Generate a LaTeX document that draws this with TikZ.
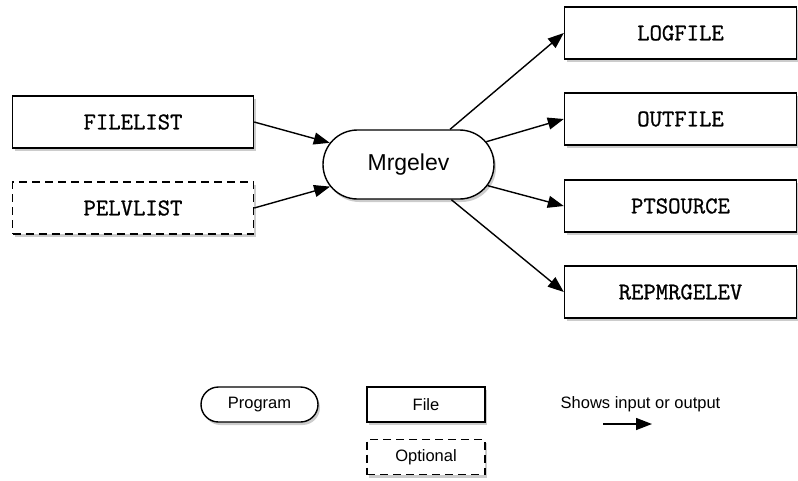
\documentclass[tikz,border=0pt]{standalone}
\usepackage{fontspec}
\setmainfont{Liberation Sans}
\newfontfamily\filefont{Latin Modern Mono}[FakeBold=1]
\usetikzlibrary{arrows.meta,shapes.misc,shadows}
\tikzset{
  shade/.style={drop shadow={shadow xshift=2pt,shadow yshift=-3pt,opacity=.4}},
  filebox/.style={draw,fill=white,shade,line width=1.4pt,minimum width=232pt,minimum height=52pt,inner sep=0pt,font=\filefont\fontsize{24}{24}\selectfont},
  optbox/.style={filebox,dash pattern=on 8pt off 5pt},
  progbox/.style={draw,fill=white,shade,rounded rectangle,line width=1.4pt,minimum width=171pt,minimum height=69pt,inner sep=0pt,font=\fontsize{23}{23}\selectfont},
  keybox/.style={draw,fill=white,shade,line width=1.4pt,minimum width=118pt,minimum height=35pt,inner sep=0pt,font=\fontsize{16.5}{16.5}\selectfont},
  link/.style={->,line width=1.4pt}
}
\begin{document}
\begin{tikzpicture}[x=1pt,y=-1pt,>={Triangle[length=16pt,width=12pt]}]
\useasboundingbox (0,0) rectangle (798,480);
% inputs
\node[filebox,minimum width=241pt] (filelist) at (133,122) {FILELIST};
\node[optbox,minimum width=241pt] (pelvlist) at (133,208) {PELVLIST};
\node[progbox] (mrgelev) at (408.5,164.5) {Mrgelev};
% outputs
\foreach \n/\y in {LOGFILE/33, OUTFILE/119, PTSOURCE/206, REPMRGELEV/292}
  \node[filebox] (\n) at (680.5,\y) {\n};
\draw[link] (filelist.east) -- (mrgelev);
\draw[link] (pelvlist.east) -- (mrgelev);
\foreach \n in {LOGFILE, OUTFILE, PTSOURCE, REPMRGELEV}
  \draw[link] (mrgelev) -- (\n.west);
% key
\node[keybox,rounded rectangle,minimum width=117pt] (program) at (259.5,404.5) {Program};
\node[keybox] (file) at (426,404.5) {File};
\node[keybox,dash pattern=on 8pt off 5pt] (optional) at (426,457) {Optional};
\node[font=\fontsize{16.5}{16.5}\selectfont] (shows) at (640.5,404) {Shows input or output};
\coordinate (a) at (603,424);
\coordinate (b) at (652,424);
\draw[link] (a) -- (b);
\end{tikzpicture}
\end{document}
